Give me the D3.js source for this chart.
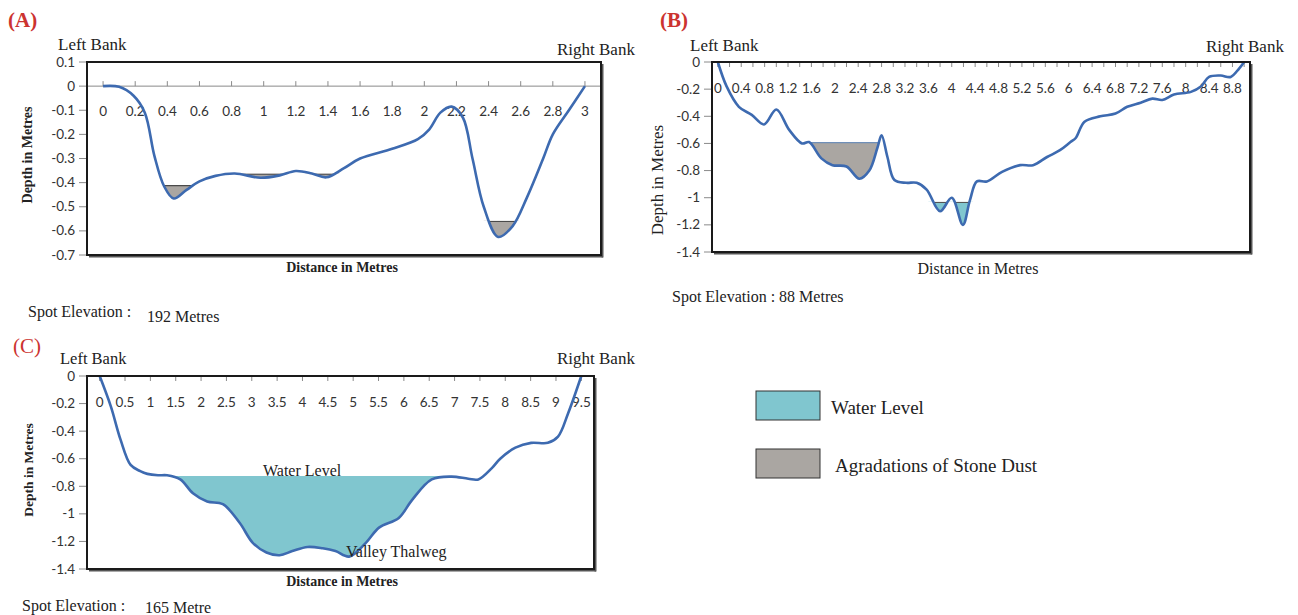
<!DOCTYPE html>
<html><head><meta charset="utf-8">
<script src="https://cdn.jsdelivr.net/npm/d3@7/dist/d3.min.js"></script>
<style>
body{margin:0;background:#fff;}
.tick{font-family:Lato,"Open Sans",sans-serif;font-size:13.5px;fill:#333;}
</style></head>
<body>
<svg id="chart" width="1298" height="615"></svg>
<script>
// ---------- DATA ----------
// Panel A
const A_dist  = [0,0.1,0.19,0.26,0.32,0.38,0.44,0.52,0.6,0.7,0.82,0.98,1.1,1.2,1.3,1.39,1.5,1.6,1.8,1.96,2.03,2.1,2.17,2.24,2.3,2.37,2.46,2.55,2.64,2.74,2.8,2.9,3.0];
const A_depth = [0,-0.003,-0.04,-0.11,-0.29,-0.415,-0.466,-0.43,-0.395,-0.372,-0.362,-0.38,-0.37,-0.352,-0.362,-0.378,-0.34,-0.30,-0.26,-0.22,-0.18,-0.11,-0.085,-0.13,-0.30,-0.50,-0.625,-0.58,-0.46,-0.30,-0.20,-0.10,0];
const A_xticks = [0,0.2,0.4,0.6,0.8,1,1.2,1.4,1.6,1.8,2,2.2,2.4,2.6,2.8,3];
const A_yticks = [0.1,0,-0.1,-0.2,-0.3,-0.4,-0.5,-0.6,-0.7];
const A_stone = [[0.36,0.56,-0.41],[0.82,1.15,-0.362],[1.26,1.47,-0.362],[2.37,2.59,-0.558]];
// Panel B
const B_dist  = [0,0.15,0.36,0.58,0.79,1.0,1.22,1.44,1.56,1.77,1.96,2.2,2.42,2.59,2.73,2.8,2.9,3.02,3.22,3.4,3.57,3.8,4.0,4.19,4.31,4.43,4.6,4.86,5.17,5.39,5.63,5.85,6.03,6.12,6.27,6.54,6.8,7.0,7.23,7.43,7.6,7.8,8.09,8.26,8.4,8.6,8.77,8.91,9.0];
const B_depth = [0,-0.18,-0.33,-0.39,-0.46,-0.35,-0.50,-0.60,-0.59,-0.71,-0.76,-0.77,-0.86,-0.80,-0.63,-0.54,-0.70,-0.87,-0.89,-0.89,-0.94,-1.10,-1.00,-1.20,-1.02,-0.88,-0.88,-0.81,-0.76,-0.76,-0.70,-0.65,-0.59,-0.56,-0.44,-0.40,-0.38,-0.33,-0.30,-0.27,-0.28,-0.24,-0.22,-0.18,-0.11,-0.10,-0.11,-0.05,0];
const B_xticks = d3.range(0,46).map(i=>+(i*0.2).toFixed(1));
const B_xlabels = [0,0.4,0.8,1.2,1.6,2,2.4,2.8,3.2,3.6,4,4.4,4.8,5.2,5.6,6,6.4,6.8,7.2,7.6,8,8.4,8.8];
const B_yticks = [0,-0.2,-0.4,-0.6,-0.8,-1,-1.2,-1.4];
const B_stone = [[1.5,2.78,-0.59]];
const B_water = [[3.6,4.36,-1.03]];
// Panel C
const C_dist  = [0,0.22,0.41,0.61,0.8,0.94,1.15,1.33,1.59,1.84,2.12,2.43,2.76,3.02,3.29,3.55,3.8,4.1,4.4,4.65,4.92,5.25,5.51,5.9,6.16,6.55,6.94,7.27,7.47,7.73,7.9,8.2,8.51,8.84,9.04,9.24,9.5];
const C_depth = [0,-0.22,-0.46,-0.645,-0.69,-0.71,-0.72,-0.72,-0.75,-0.85,-0.91,-0.93,-1.065,-1.21,-1.28,-1.30,-1.27,-1.24,-1.25,-1.27,-1.31,-1.21,-1.10,-1.03,-0.90,-0.75,-0.73,-0.745,-0.75,-0.67,-0.60,-0.52,-0.485,-0.485,-0.44,-0.27,0];
const C_xticks = d3.range(0,20).map(i=>i*0.5);
const C_yticks = [0,-0.2,-0.4,-0.6,-0.8,-1,-1.2,-1.4];
const C_water = [[1.4,6.85,-0.725]];

const legendItems = ["Water Level","Agradations of Stone Dust"];

// ---------- STYLE ----------
const SERIF = "'Liberation Serif','Times New Roman',serif";
const LINE = "#3d6ab0", WATER = "#80c6cf", STONE = "#aaa6a2";
const svg = d3.select("#chart");
let clipId = 0;

function panel(o){
  const g = svg.append("g");
  const x = d3.scaleLinear().domain([o.xmin - o.step/2, o.xmax + o.step/2]).range([o.left, o.right]);
  const y = d3.scaleLinear().domain(o.ydom).range([o.bottom, o.top]);
  const pts = o.dist.map((d,i)=>[d,o.depth[i]]);
  const cv = d3.curveCatmullRom.alpha(0.5);

  g.append("rect").attr("x",o.left).attr("y",o.top).attr("width",o.right-o.left).attr("height",o.bottom-o.top).attr("fill","#fff");

  function fills(list,color,edge){
    list.forEach(([x0,x1,lev])=>{
      const id = "clip"+(clipId++);
      g.append("clipPath").attr("id",id).append("rect")
        .attr("x",x(x0)).attr("y",y(lev)).attr("width",x(x1)-x(x0)).attr("height",o.bottom-y(lev));
      g.append("path").datum(pts).attr("clip-path",`url(#${id})`)
        .attr("fill",color)
        .attr("d",d3.area().curve(cv).x(d=>x(d[0])).y0(()=>y(lev)).y1(d=>y(d[1])));
      if(edge){
        const id2 = "clip"+(clipId++);
        g.append("clipPath").attr("id",id2).append("path").datum(pts)
          .attr("d",d3.area().curve(cv).x(d=>x(d[0])).y0(()=>y(lev)-2).y1(d=>y(d[1])));
        g.append("g").attr("clip-path",`url(#${id})`).append("line").attr("clip-path",`url(#${id2})`)
          .attr("x1",x(x0)).attr("x2",x(x1)).attr("y1",y(lev)+0.6).attr("y2",y(lev)+0.6)
          .attr("stroke",edge).attr("stroke-width",1.3);
      }
    });
  }
  if(o.stone) fills(o.stone,STONE,o.stoneEdge);
  if(o.water) fills(o.water,WATER,o.waterEdge);

  const axY = y(0);
  if(o.zeroLine) g.append("line").attr("x1",o.left).attr("x2",o.right).attr("y1",axY).attr("y2",axY).attr("stroke","#8a8a8a").attr("stroke-width",1);
  g.selectAll(null).data(o.xticks).enter().append("line")
    .attr("x1",d=>x(d)).attr("x2",d=>x(d)).attr("y1",axY).attr("y2",axY+o.tickDir*5)
    .attr("stroke","#8a8a8a").attr("stroke-width",1);
  g.selectAll(null).data(o.xlabels).enter().append("text").attr("class","tick")
    .attr("x",d=>x(d)).attr("y",axY+o.labelOff).attr("text-anchor","middle").text(d=>d);

  g.selectAll(null).data(o.yticks).enter().append("line")
    .attr("x1",o.left-8).attr("x2",o.left).attr("y1",d=>y(d)).attr("y2",d=>y(d)).attr("stroke","#8a8a8a");
  g.selectAll(null).data(o.yticks).enter().append("text").attr("class","tick")
    .attr("x",o.left-12).attr("y",d=>y(d)+4.5).attr("text-anchor","end").text(d=>d);

  g.append("path").datum(pts).attr("fill","none").attr("stroke",LINE).attr("stroke-width",2.6)
    .attr("d",d3.line().curve(cv).x(d=>x(d[0])).y(d=>y(d[1])));

  g.append("line").attr("x1",o.left+2).attr("x2",o.right+2).attr("y1",o.bottom+1.5).attr("y2",o.bottom+1.5).attr("stroke","#555").attr("stroke-width",2);
  g.append("line").attr("x1",o.right+1.5).attr("x2",o.right+1.5).attr("y1",o.top+2).attr("y2",o.bottom+2.5).attr("stroke","#555").attr("stroke-width",2);
  g.append("rect").attr("x",o.left).attr("y",o.top).attr("width",o.right-o.left).attr("height",o.bottom-o.top)
    .attr("fill","none").attr("stroke","#1a1a1a").attr("stroke-width",2);
  return {x,y,g};
}

function txt(s,xp,yp,size,opt={}){
  const t = svg.append("text").attr("x",xp).attr("y",yp).attr("font-size",size)
    .attr("font-family",SERIF).attr("fill",opt.fill||"#222").text(s);
  if(opt.bold) t.attr("font-weight","bold");
  if(opt.anchor) t.attr("text-anchor",opt.anchor);
  if(opt.rot) t.attr("transform",`rotate(-90,${xp},${yp})`);
  return t;
}

// ---------- PANEL A ----------
panel({left:87,right:601,top:62,bottom:255,xmin:0,xmax:3,step:0.2,ydom:[-0.7,0.1],
  dist:A_dist,depth:A_depth,xticks:A_xticks,xlabels:A_xticks,yticks:A_yticks,
  stone:A_stone,stoneEdge:"#4a4a4a",zeroLine:true,tickDir:-1,labelOff:30});
txt("(A)",8,27,21,{bold:true,fill:"#cc3330"});
txt("Left Bank",58,50,17);
txt("Right Bank",557,55,17);
txt("Depth in Metres",32,155,14,{bold:true,anchor:"middle",rot:true});
txt("Distance in Metres",342,272,14,{bold:true,anchor:"middle"});
txt("Spot Elevation :",28,317,16);
txt("192  Metres",147,322,16);

// ---------- PANEL B ----------
panel({left:712,right:1250,top:62,bottom:252,xmin:0,xmax:9,step:0.2,ydom:[-1.4,0],
  dist:B_dist,depth:B_depth,xticks:B_xticks,xlabels:B_xlabels,yticks:B_yticks,
  stone:B_stone,stoneEdge:"#6f8fb8",water:B_water,waterEdge:"#555",zeroLine:false,tickDir:1,labelOff:31});
txt("(B)",660,27,21,{bold:true,fill:"#cc3330"});
txt("Left Bank",690,51,17);
txt("Right Bank",1206,52,17);
txt("Depth in Metres",663,180,17,{anchor:"middle",rot:true});
txt("Distance in Metres",978,274,16,{anchor:"middle"});
txt("Spot Elevation : 88 Metres",672,302,16);

// ---------- PANEL C ----------
panel({left:87,right:594,top:376,bottom:569,xmin:0,xmax:9.5,step:0.5,ydom:[-1.4,0],
  dist:C_dist,depth:C_depth,xticks:C_xticks,xlabels:C_xticks,yticks:C_yticks,
  water:C_water,waterEdge:null,zeroLine:false,tickDir:1,labelOff:31});
txt("(C)",13,353,21,{fill:"#cc3330"});
txt("Left Bank",60,364,16.5);
txt("Right Bank",557,364,17);
txt("Depth in Metres",33,470,13.5,{bold:true,anchor:"middle",rot:true});
txt("Distance in Metres",342,586,14,{bold:true,anchor:"middle"});
txt("Spot Elevation :",22,611,16);
txt("165  Metre",145,613,16);
txt("Water Level",263,476,16);
txt("Valley Thalweg",346,557,16);

// ---------- LEGEND ----------
const lg = svg.append("g");
const lcol = [WATER,STONE], ly = [391,449], lx = [831,835];
legendItems.forEach((s,i)=>{
  lg.append("rect").attr("x",756).attr("y",ly[i]).attr("width",64).attr("height",29)
    .attr("fill",lcol[i]).attr("stroke","#333").attr("stroke-width",1);
  lg.append("text").attr("x",lx[i]).attr("y",ly[i]+23).attr("font-size",19)
    .attr("font-family",SERIF).attr("fill","#222").text(s);
});
</script>
</body></html>
